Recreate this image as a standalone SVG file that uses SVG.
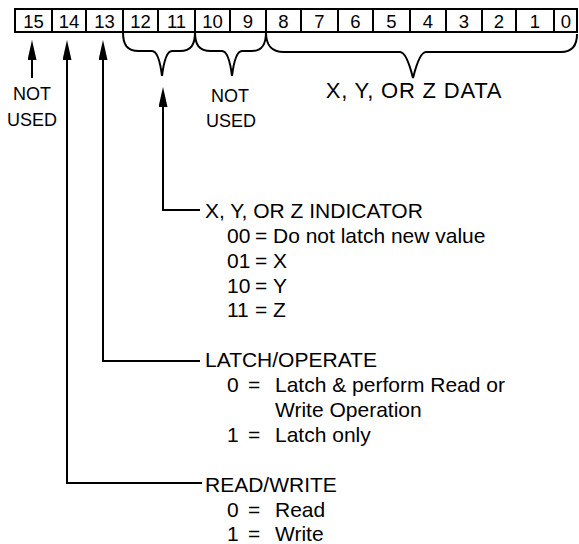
<svg xmlns="http://www.w3.org/2000/svg" width="579" height="544" viewBox="0 0 579 544">
<defs>
<style>
.cell rect{fill:#fff;stroke:#000;stroke-width:2}
.cell text{font-family:"Liberation Sans",Arial,Helvetica,sans-serif;font-size:18.5px;text-anchor:middle;fill:#000}
.lbl{font-family:"Liberation Sans",Arial,Helvetica,sans-serif;font-size:21px;fill:#000}
.sm{font-size:18px}
.mid{text-anchor:middle}
.con{fill:none;stroke:#000;stroke-width:2}
</style>
<marker id="ah" viewBox="0 0 20 9" refX="14" refY="4.5" markerWidth="20" markerHeight="9" markerUnits="userSpaceOnUse" orient="auto">
<path d="M0,0 L20,4.5 L0,9 Z" fill="#000"/>
</marker>
</defs>
<rect width="579" height="544" fill="#fff"/>
<g id="register">
<g id="bit15" class="cell"><rect x="15" y="9" width="37" height="23"/><text x="33.5" y="27.5">15</text></g>
<g id="bit14" class="cell"><rect x="52" y="9" width="34" height="23"/><text x="69" y="27.5">14</text></g>
<g id="bit13" class="cell"><rect x="86" y="9" width="37" height="23"/><text x="104.5" y="27.5">13</text></g>
<g id="bit12" class="cell"><rect x="123" y="9" width="35" height="23"/><text x="140.5" y="27.5">12</text></g>
<g id="bit11" class="cell"><rect x="158" y="9" width="37" height="23"/><text x="176.5" y="27.5">11</text></g>
<g id="bit10" class="cell"><rect x="195" y="9" width="35" height="23"/><text x="212.5" y="27.5">10</text></g>
<g id="bit9" class="cell"><rect x="230" y="9" width="36" height="23"/><text x="248" y="27.5">9</text></g>
<g id="bit8" class="cell"><rect x="266" y="9" width="35" height="23"/><text x="283.5" y="27.5">8</text></g>
<g id="bit7" class="cell"><rect x="301" y="9" width="37" height="23"/><text x="319.5" y="27.5">7</text></g>
<g id="bit6" class="cell"><rect x="338" y="9" width="35" height="23"/><text x="355.5" y="27.5">6</text></g>
<g id="bit5" class="cell"><rect x="373" y="9" width="37" height="23"/><text x="391.5" y="27.5">5</text></g>
<g id="bit4" class="cell"><rect x="410" y="9" width="36" height="23"/><text x="428" y="27.5">4</text></g>
<g id="bit3" class="cell"><rect x="446" y="9" width="36" height="23"/><text x="464" y="27.5">3</text></g>
<g id="bit2" class="cell"><rect x="482" y="9" width="34" height="23"/><text x="499" y="27.5">2</text></g>
<g id="bit1" class="cell"><rect x="516" y="9" width="38" height="23"/><text x="535" y="27.5">1</text></g>
<g id="bit0" class="cell"><rect x="554" y="9" width="23" height="23"/><text x="566" y="27.5">0</text></g>
</g>
<g id="braces" class="con">
<path d="M123,32 C123,45 127,51 139,51 L152,51 C157,51 160,60 162,76 C164,60 167,51 172,51 L180,51 C191,51 195,45 195,32"/>
<path d="M195,32 C195,45 199,51 211,51 L222,51 C227,51 230,60 232,76 C234,60 237,51 242,51 L252,51 C262,51 266,45 266,32"/>
<path d="M266,32 C266,45 271,52 284,52 L400,52 C405,52 409,62 413,78 C417,62 421,52 426,52 L561,52 C572,52 577,45 577,34"/>
</g>
<g id="connectors" class="con">
<path d="M32,78 V46" marker-end="url(#ah)"/>
<path d="M202,483 H67 V46" marker-end="url(#ah)"/>
<path d="M200,361 H103 V46" marker-end="url(#ah)"/>
<path d="M200,210 H163 V93" marker-end="url(#ah)"/>
</g>
<g id="notused15"><text class="lbl sm mid" x="32" y="100">NOT</text><text class="lbl sm mid" x="32" y="126">USED</text></g>
<g id="notused109"><text class="lbl sm mid" x="230" y="102">NOT</text><text class="lbl sm mid" x="231" y="127">USED</text></g>
<g id="data"><text class="lbl mid" x="414" y="98" style="font-size:22px;letter-spacing:0.8px">X, Y, OR Z DATA</text></g>
<g id="indicator">
<text class="lbl" x="205" y="218">X, Y, OR Z INDICATOR</text>
<text class="lbl" y="243"><tspan x="227">00</tspan><tspan x="255">=</tspan><tspan x="273">Do not latch new value</tspan></text>
<text class="lbl" y="268"><tspan x="227">01</tspan><tspan x="255">=</tspan><tspan x="273">X</tspan></text>
<text class="lbl" y="293"><tspan x="227">10</tspan><tspan x="255">=</tspan><tspan x="273">Y</tspan></text>
<text class="lbl" y="317"><tspan x="227">11</tspan><tspan x="255">=</tspan><tspan x="273">Z</tspan></text>
</g>
<g id="latch">
<text class="lbl" x="205" y="367">LATCH/OPERATE</text>
<text class="lbl" y="392"><tspan x="227">0</tspan><tspan x="248">=</tspan><tspan x="275">Latch &amp; perform Read or</tspan></text>
<text class="lbl" x="275" y="417">Write Operation</text>
<text class="lbl" y="442"><tspan x="227">1</tspan><tspan x="248">=</tspan><tspan x="275">Latch only</tspan></text>
</g>
<g id="readwrite">
<text class="lbl" x="205" y="492">READ/WRITE</text>
<text class="lbl" y="517"><tspan x="227">0</tspan><tspan x="248">=</tspan><tspan x="275">Read</tspan></text>
<text class="lbl" y="541"><tspan x="227">1</tspan><tspan x="248">=</tspan><tspan x="275">Write</tspan></text>
</g>
</svg>
